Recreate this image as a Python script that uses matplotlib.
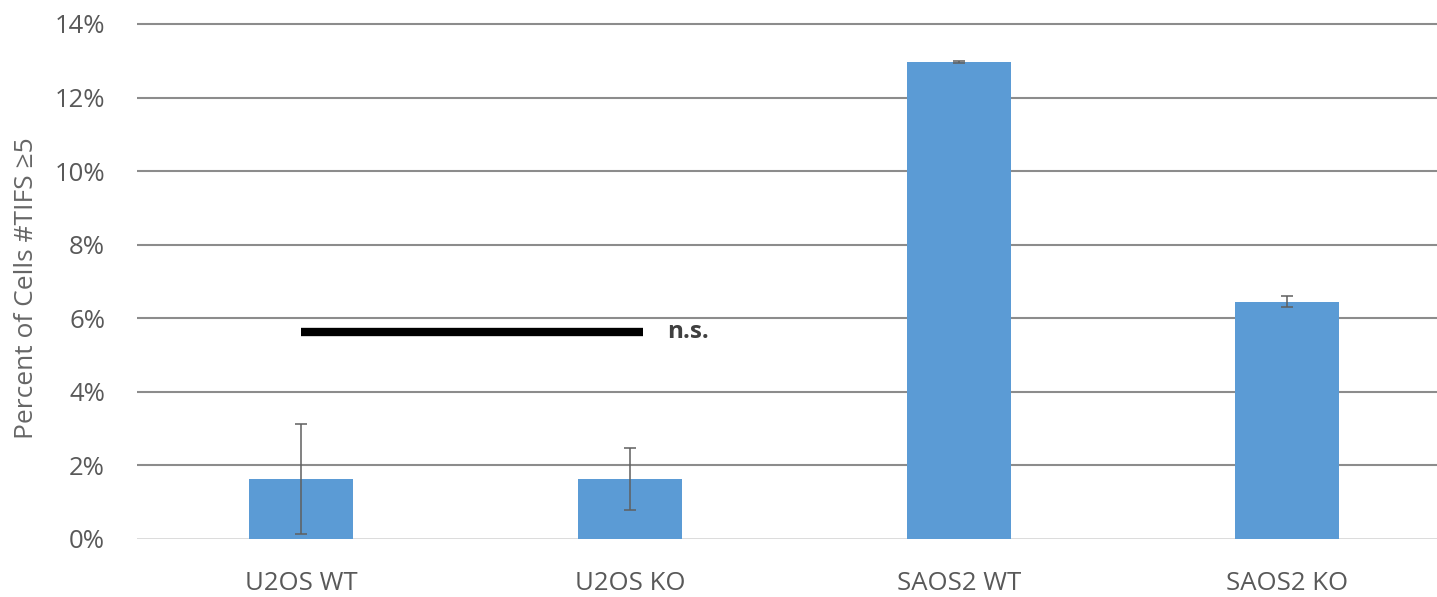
import matplotlib
matplotlib.use("Agg")
import matplotlib.pyplot as plt
from matplotlib.ticker import FuncFormatter

# Data (percent of cells)
categories = ["U2OS WT", "U2OS KO", "SAOS2 WT", "SAOS2 KO"]
values = [1.63, 1.63, 12.97, 6.45]
errors = [1.50, 0.84, 0.02, 0.15]
yticks = [0, 2, 4, 6, 8, 10, 12, 14]
sig_level = 5.63
sig_span = (0.0, 1.0)
sig_label = "n.s."

plt.rcParams["font.family"] = ["Open Sans", "DejaVu Sans"]

fig = plt.figure(figsize=(14.37, 5.97), dpi=100)
W, H = 1437, 597
x0_px, y0_px = 137, 539
slot_px = 328.67
unit_px = 36.79
ymax = 14.3
ax = fig.add_axes([x0_px / W, (H - y0_px) / H,
                   4 * slot_px / W, ymax * unit_px / H])

bar_color = "#5b9bd5"
text_color = "#595959"
xs = list(range(len(categories)))
ax.bar(xs, values, width=0.316, color=bar_color, zorder=3)
ax.errorbar(xs, values, yerr=errors, fmt="none", ecolor="#5f5f5f",
            elinewidth=1.1, capsize=4.5, capthick=1.1, zorder=4)

ax.set_xlim(-0.5, 3.5)
ax.set_ylim(0, ymax)
ax.set_yticks(yticks)
ax.yaxis.set_major_formatter(FuncFormatter(lambda v, p: f"{v:.0f}%"))
ax.set_xticks(xs)
ax.set_xticklabels(categories)

for y in yticks[1:]:
    ax.axhline(y, color="#8c8c8c", lw=1.5, zorder=1)
ax.axhline(0, color="#d9d9d9", lw=1.3, zorder=2)

for s in ax.spines.values():
    s.set_visible(False)
ax.tick_params(axis="both", length=0, labelsize=18.5, colors=text_color)
ax.tick_params(axis="x", pad=23)
ax.tick_params(axis="y", pad=23)

fig.text(27 / W, 1 - 288 / H, "Percent of Cells #TIFS \u22655", rotation=90,
         ha="center", va="center", fontsize=19, color="#666666")

# significance bracket
ax.plot([sig_span[0], sig_span[1] + 0.04], [sig_level, sig_level],
        color="black", lw=6, solid_capstyle="butt", zorder=5)
ax.text(1.112, sig_level, sig_label, ha="left", va="center", fontsize=17.5,
        color="#404040", fontweight="bold")

fig.savefig("out.png", dpi=100, facecolor="white")
